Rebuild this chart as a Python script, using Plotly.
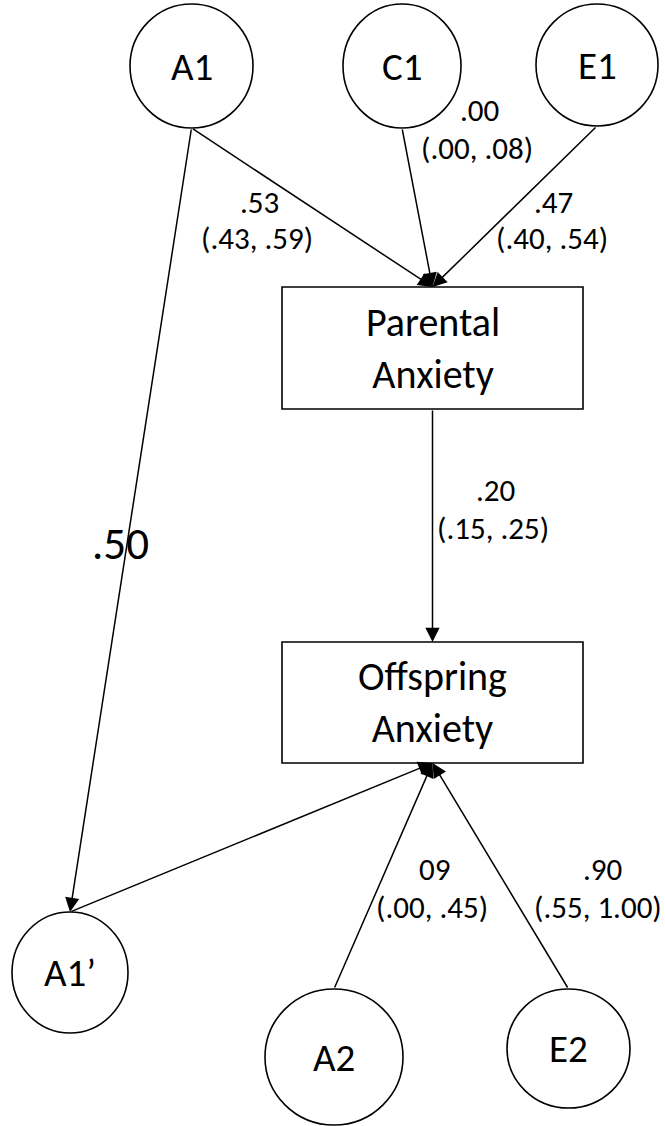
import plotly.graph_objects as go

# ---- data (labels and path estimates) ----
node_names = ["A1", "C1", "E1", "A1’", "A2", "E2"]
box_names = ["Parental<br>Anxiety", "Offspring<br>Anxiety"]
path_coefs = [".53", ".00", ".47", ".20", "09", ".90"]
path_cis = ["(.43, .59)", "(.00, .08)", "(.40, .54)", "(.15, .25)", "(.00, .45)", "(.55, 1.00)"]
genetic_corr = ".50"

# ---- layout geometry (pixel space of the diagram) ----
W, H = 665, 1126
circles = {  # x0, y0, x1, y1
    "A1": (130, 4, 253, 128),
    "C1": (343, 4, 461, 128),
    "E1": (536, 4, 658, 126),
    "A1’": (12, 912, 128, 1033),
    "A2": (265, 989, 403, 1125),
    "E2": (507, 989, 630, 1108),
}
boxes = {
    "Parental<br>Anxiety": (282, 287, 583, 409),
    "Offspring<br>Anxiety": (282, 642, 583, 763),
}
coef_pos = [(259, 202), (479, 110), (553, 202), (495, 490), (434, 869), (602, 869)]
ci_pos = [(257, 238), (477, 148), (552, 238), (493, 528), (432, 907), (598, 907)]
corr_pos = (120, 543)

FONT = "Calibri, Carlito, Lato, sans-serif"
LW = 1.6


def bottom(name):
    g = circles.get(name) or boxes.get(name)
    return ((g[0] + g[2]) / 2, g[3])


def top(name):
    g = circles.get(name) or boxes.get(name)
    return ((g[0] + g[2]) / 2, g[1])


P, O = box_names
edges = [  # (tail point, head point)
    (bottom("A1"), top(P)),
    (bottom("C1"), top(P)),
    (bottom("E1"), top(P)),
    (bottom(P), top(O)),
    (top("A1’"), bottom(O)),
    (top("A2"), bottom(O)),
    (top("E2"), bottom(O)),
    (bottom("A1"), top("A1’")),
]

fig = go.Figure()
shapes = []
annotations = []

for name in node_names:
    x0, y0, x1, y1 = circles[name]
    shapes.append(dict(type="circle", xref="x", yref="y", x0=x0, y0=y0, x1=x1, y1=y1,
                       line=dict(color="black", width=LW), fillcolor="white", layer="below"))
    annotations.append(dict(x=(x0 + x1) / 2, y=(y0 + y1) / 2, text=name, showarrow=False,
                            font=dict(family=FONT, size=39, color="black")))

for name in box_names:
    x0, y0, x1, y1 = boxes[name]
    shapes.append(dict(type="rect", xref="x", yref="y", x0=x0, y0=y0, x1=x1, y1=y1,
                       line=dict(color="black", width=LW), fillcolor="white", layer="below"))
    annotations.append(dict(x=(x0 + x1) / 2, y=(y0 + y1) / 2, text=name, showarrow=False,
                            font=dict(family=FONT, size=40, color="black")))

for (tx, ty), (hx, hy) in edges:
    annotations.append(dict(x=hx, y=hy, ax=tx, ay=ty, xref="x", yref="y", axref="x", ayref="y",
                            text="", showarrow=True, arrowhead=2, arrowsize=1.9,
                            arrowwidth=1.5, arrowcolor="black", standoff=0, startstandoff=0))

for t, (x, y) in zip(path_coefs, coef_pos):
    annotations.append(dict(x=x, y=y, text=t, showarrow=False,
                            font=dict(family=FONT, size=31, color="black")))
for t, (x, y) in zip(path_cis, ci_pos):
    annotations.append(dict(x=x, y=y, text=t, showarrow=False,
                            font=dict(family=FONT, size=31, color="black")))
annotations.append(dict(x=corr_pos[0], y=corr_pos[1], text=genetic_corr, showarrow=False,
                        font=dict(family=FONT, size=45, color="black")))

fig.update_layout(
    width=W, height=H, margin=dict(l=0, r=0, t=0, b=0),
    paper_bgcolor="white", plot_bgcolor="white",
    xaxis=dict(range=[0, W], visible=False, fixedrange=True),
    yaxis=dict(range=[H, 0], visible=False, fixedrange=True),
    shapes=shapes, annotations=annotations, showlegend=False,
)

fig.write_html(
    "out.html",
    config={"displayModeBar": False},
    post_script="document.body.style.margin='0px';document.body.style.overflow='hidden';",
)
